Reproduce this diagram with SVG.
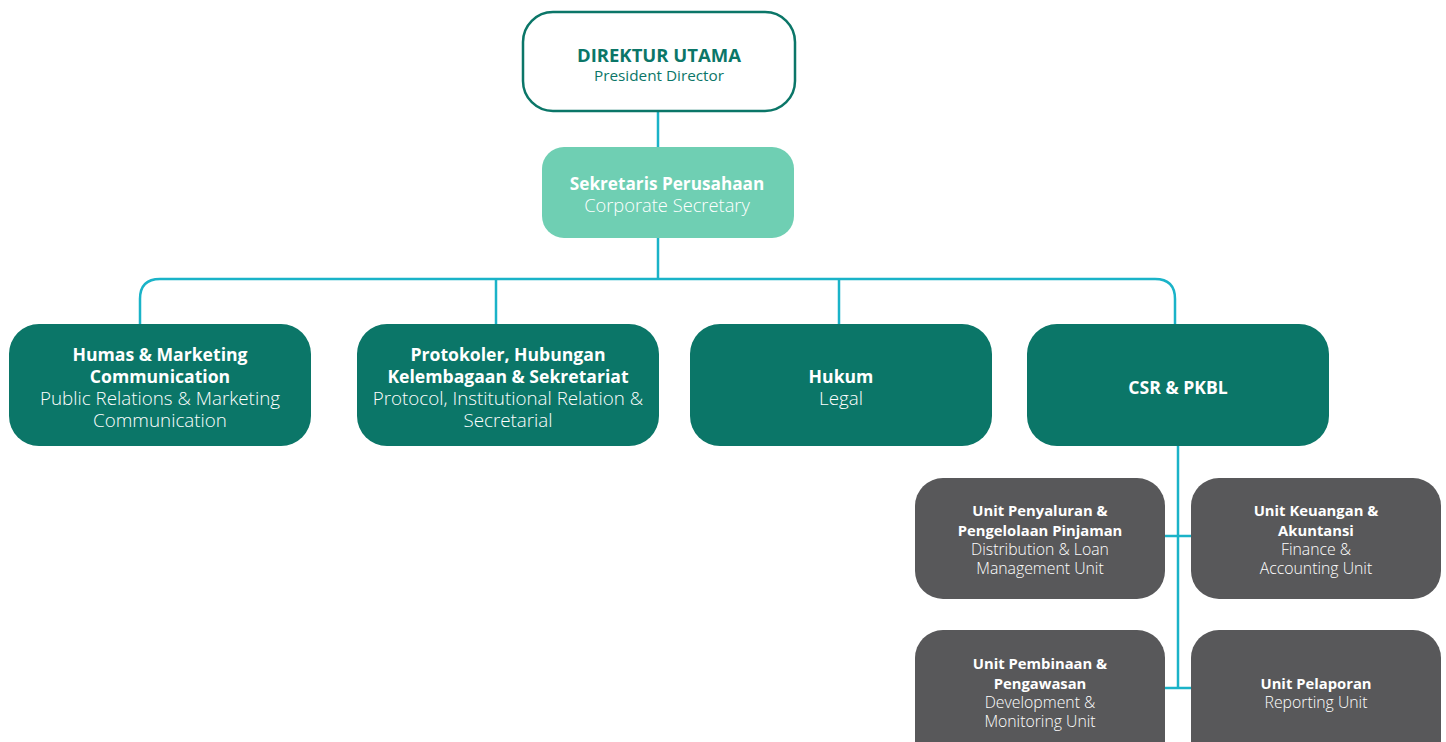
<svg xmlns="http://www.w3.org/2000/svg" width="1446" height="742" viewBox="0 0 1446 742">
  <style>
    .txt { font-family: "Open Sans", Lato, "Liberation Sans", sans-serif; text-anchor: middle; }
    .b { font-weight: 700; }
    .l { font-weight: 300; }
    .w { fill: #ffffff; }
    .dark { fill: #0b7668; }
    .light { fill: #6fcfb3; }
    .grey { fill: #58585a; }
    .conn { fill: none; stroke: #1ab3c8; stroke-width: 2.5; }
    .bt2 { font-size: 17.6px; }
    .lt2 { font-size: 18.8px; }
    .bt3 { font-size: 14.8px; }
    .lt3 { font-size: 15.8px; }
  </style>

  <!-- connectors -->
  <g id="connectors">
    <line class="conn" x1="658" y1="112" x2="658" y2="147"/>
    <line class="conn" x1="658" y1="238" x2="658" y2="279"/>
    <path class="conn" d="M140 324 V299 Q140 279 160 279 H1155 Q1175 279 1175 299 V324"/>
    <line class="conn" x1="496" y1="279" x2="496" y2="324"/>
    <line class="conn" x1="839" y1="279" x2="839" y2="324"/>
    <line class="conn" x1="1178" y1="446" x2="1178" y2="688"/>
    <line class="conn" x1="1165" y1="536" x2="1191" y2="536"/>
    <line class="conn" x1="1165" y1="688" x2="1191" y2="688"/>
  </g>

  <!-- top -->
  <g id="direktur-utama">
    <rect x="523" y="12" width="272" height="99" rx="30" fill="#ffffff" stroke="#0b7668" stroke-width="2.5"/>
    <text class="txt b" x="659" y="62" font-size="18.5" fill="#0b7668">DIREKTUR UTAMA</text>
    <text class="txt" x="659" y="81" font-size="15.3" fill="#0b7668">President Director</text>
  </g>

  <g id="sekretaris-perusahaan">
    <rect class="light" x="542" y="147" width="252" height="91" rx="22"/>
    <text class="txt b w" x="667" y="190" font-size="17.2">Sekretaris Perusahaan</text>
    <text class="txt l w" x="667" y="212" font-size="18.3">Corporate Secretary</text>
  </g>

  <!-- second level -->
  <g id="humas">
    <rect class="dark" x="9" y="324" width="302" height="122" rx="30"/>
    <text class="txt b bt2 w" x="160" y="361">Humas &amp; Marketing</text>
    <text class="txt b bt2 w" x="160" y="383">Communication</text>
    <text class="txt l lt2 w" x="160" y="405">Public Relations &amp; Marketing</text>
    <text class="txt l lt2 w" x="160" y="427">Communication</text>
  </g>

  <g id="protokoler">
    <rect class="dark" x="357" y="324" width="302" height="122" rx="30"/>
    <text class="txt b bt2 w" x="508" y="361">Protokoler, Hubungan</text>
    <text class="txt b bt2 w" x="508" y="383">Kelembagaan &amp; Sekretariat</text>
    <text class="txt l lt2 w" x="508" y="405">Protocol, Institutional Relation &amp;</text>
    <text class="txt l lt2 w" x="508" y="427">Secretarial</text>
  </g>

  <g id="hukum">
    <rect class="dark" x="690" y="324" width="302" height="122" rx="30"/>
    <text class="txt b bt2 w" x="841" y="383">Hukum</text>
    <text class="txt l lt2 w" x="841" y="405">Legal</text>
  </g>

  <g id="csr-pkbl">
    <rect class="dark" x="1027" y="324" width="302" height="122" rx="30"/>
    <text class="txt b bt2 w" x="1178" y="394">CSR &amp; PKBL</text>
  </g>

  <!-- units -->
  <g id="unit-penyaluran">
    <rect class="grey" x="915" y="478" width="250" height="121" rx="28"/>
    <text class="txt b bt3 w" x="1040" y="516">Unit Penyaluran &amp;</text>
    <text class="txt b bt3 w" x="1040" y="536">Pengelolaan Pinjaman</text>
    <text class="txt l lt3 w" x="1040" y="555">Distribution &amp; Loan</text>
    <text class="txt l lt3 w" x="1040" y="574">Management Unit</text>
  </g>

  <g id="unit-keuangan">
    <rect class="grey" x="1191" y="478" width="250" height="121" rx="28"/>
    <text class="txt b bt3 w" x="1316" y="516">Unit Keuangan &amp;</text>
    <text class="txt b bt3 w" x="1316" y="536">Akuntansi</text>
    <text class="txt l lt3 w" x="1316" y="555">Finance &amp;</text>
    <text class="txt l lt3 w" x="1316" y="574">Accounting Unit</text>
  </g>

  <g id="unit-pembinaan">
    <rect class="grey" x="915" y="630" width="250" height="140" rx="28"/>
    <text class="txt b bt3 w" x="1040" y="669">Unit Pembinaan &amp;</text>
    <text class="txt b bt3 w" x="1040" y="689">Pengawasan</text>
    <text class="txt l lt3 w" x="1040" y="708">Development &amp;</text>
    <text class="txt l lt3 w" x="1040" y="727">Monitoring Unit</text>
  </g>

  <g id="unit-pelaporan">
    <rect class="grey" x="1191" y="630" width="250" height="140" rx="28"/>
    <text class="txt b bt3 w" x="1316" y="689">Unit Pelaporan</text>
    <text class="txt l lt3 w" x="1316" y="708">Reporting Unit</text>
  </g>
</svg>
